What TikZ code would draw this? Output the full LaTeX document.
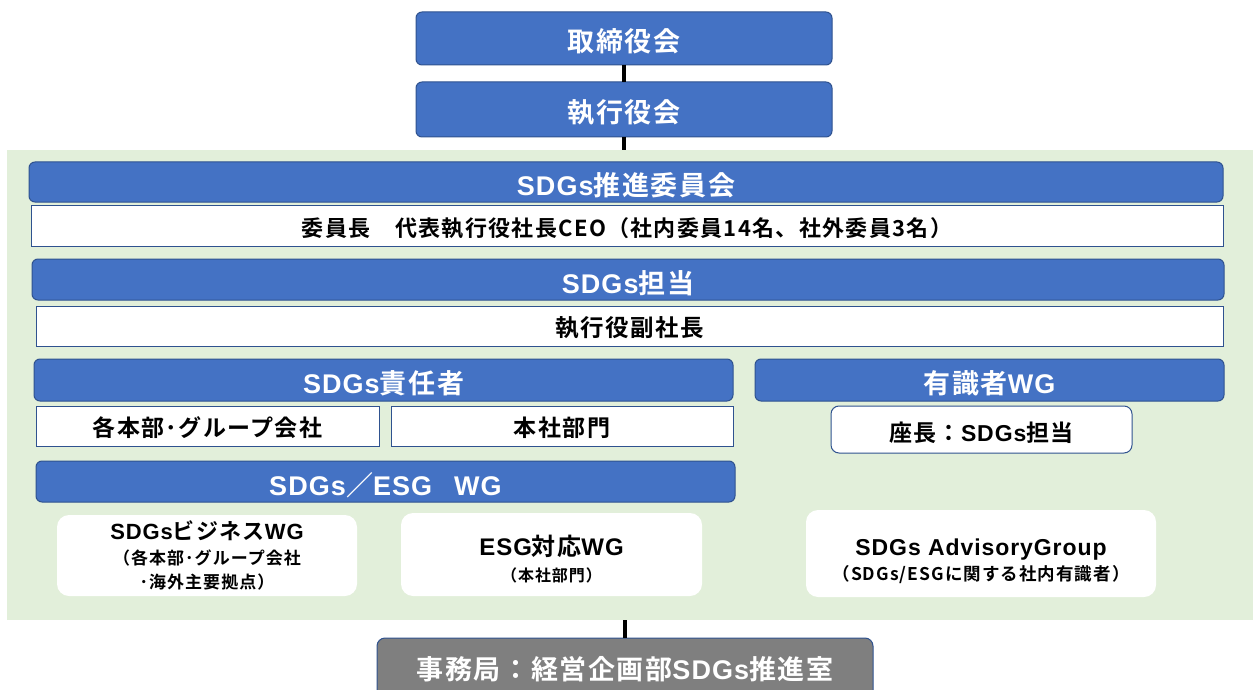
\documentclass[tikz,border=0pt]{standalone}
\usepackage{fontspec}
\setmainfont{Noto Sans CJK JP}[BoldFont={Noto Sans CJK JP Bold}, LetterSpace=6]
\newfontfamily\lat{Liberation Sans}[LetterSpace=4]
\definecolor{ofblue}{HTML}{4472C4}
\definecolor{ofdark}{HTML}{2F528F}
\definecolor{bggreen}{HTML}{E2EFDA}
\definecolor{ofgray}{HTML}{7F7F7F}
\newcommand{\fsz}[1]{\fontsize{#1}{#1}\selectfont}
\newcommand{\la}[1]{{\lat #1}}
\tikzset{
  base/.style={inner sep=0pt, outer sep=0pt, anchor=north west, line width=1pt, align=center, font=\bfseries},
  bluebox/.style={base, fill=ofblue, draw=ofdark, rounded corners=6pt, text=white, text height=28pt, text depth=1pt},
  whitebox/.style={base, fill=white, draw=ofdark, text=black, text height=22pt, text depth=1pt},
  wgbox/.style={base, fill=white, draw=none, rounded corners=12pt, text=black},
  grayblock/.style={base, fill=ofgray, draw=ofdark, rounded corners=8pt, text=white},
  link/.style={line width=4pt, draw=black}
}
\begin{document}
\begin{tikzpicture}[x=1pt, y=-1pt]
\useasboundingbox (0,0) rectangle (1253,690);
% background panel
\node[base, fill=bggreen, minimum width=1246, minimum height=470] (bg) at (7,150) {};
% top boxes
\node[bluebox, minimum width=416, minimum height=53] (board) at (416,12) {\fsz{27}取締役会};
\node[bluebox, minimum width=416, minimum height=55] (exec) at (416,82) {\fsz{27}執行役会};
\draw[link] (board.south) -- (exec.north);
\draw[link] (exec.south) -- (exec.south |- bg.north);
% committee
\node[bluebox, minimum width=1194, minimum height=40] (comm) at (29,162) {\fsz{27}\la{SDGs}推進委員会};
\node[whitebox, minimum width=1192, minimum height=41] (chair) at (31,205) {\fsz{22}委員長　代表執行役社長CEO（社内委員14名、社外委員3名）};
\node[bluebox, minimum width=1192, minimum height=41] (tanto) at (32,259) {\fsz{27}\la{SDGs}担当};
\node[whitebox, minimum width=1187, minimum height=40] (vp) at (36,306) {\fsz{23.5}執行役副社長};
% responsible
\node[bluebox, minimum width=699, minimum height=42] (resp) at (34,359) {\fsz{27}\la{SDGs}責任者};
\node[bluebox, minimum width=469, minimum height=42] (yushiki) at (755,359) {\fsz{27}有識者\la{WG}};
\node[whitebox, minimum width=343, minimum height=40] (kaku) at (36,406) {\fsz{23}各本部･グループ会社};
\node[whitebox, minimum width=342, minimum height=40] (honsha) at (391,406) {\fsz{23}本社部門};
\node[whitebox, rounded corners=8pt, text height=24pt, minimum width=301, minimum height=47] (zacho) at (831,406) {\fsz{23}座長：\la{SDGs}担当};
\node[bluebox, minimum width=699, minimum height=41] (esgwg) at (36,461) {\fsz{27}\la{SDGs}／\la{ESG}\hspace{22pt}\la{WG}};
% working groups
\node[wgbox, minimum width=300, minimum height=81] (biz) at (57,515)
  {\fsz{22}\la{SDGs}ビジネス\la{WG}\\[8pt]\fsz{17}（各本部･グループ会社\\[6pt]\fsz{17}･海外主要拠点）};
\node[wgbox, minimum width=301, minimum height=83] (esgt) at (401,513)
  {\fsz{24}\rule{0pt}{29pt}\la{ESG}対応\la{WG}\\[9pt]\fsz{16}（本社部門）};
\node[wgbox, minimum width=350, minimum height=87] (adv) at (806,510)
  {\fsz{23}\rule{0pt}{32pt}\la{SDGs AdvisoryGroup}\\[5pt]\fsz{17.5}（SDGs/ESGに関する社内有識者）};
% secretariat
\node[grayblock, minimum width=496, minimum height=62] (jim) at (377,638) {\fsz{27}事務局：経営企画部\la{SDGs}推進室};
\draw[link] (jim.north |- bg.south) -- (jim.north);
\end{tikzpicture}
\end{document}
